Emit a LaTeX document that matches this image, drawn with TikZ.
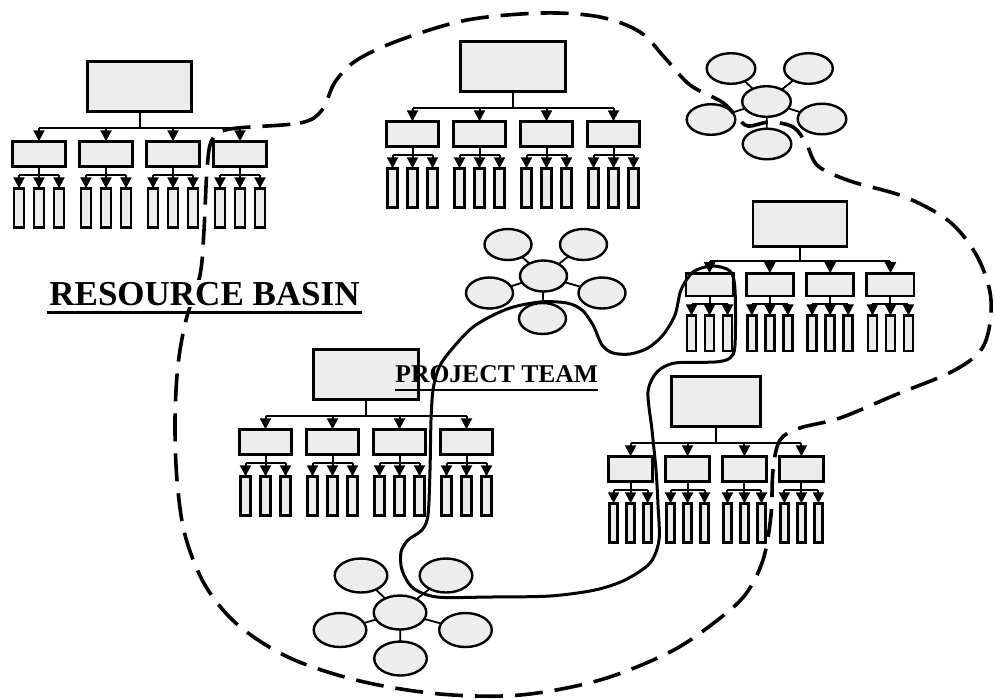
\documentclass[tikz,border=0pt]{standalone}
\usepackage{fontspec}
\setmainfont{Liberation Serif}
\usetikzlibrary{arrows.meta,shapes.geometric}
\tikzset{
  box/.style={draw, line width=1.4pt, fill=black!7, inner sep=0pt, outer sep=0pt},
  topbox/.style={box, minimum width=52.2pt, minimum height=25.2pt},
  childbox/.style={box, minimum width=26.2pt, minimum height=12.7pt},
  leafbox/.style={box, minimum width=5pt, minimum height=19.7pt},
  conn/.style={line width=1pt},
  arr/.style={line width=1pt, -{Triangle[length=5.5pt,width=5.5pt]}},
  bubble/.style={draw, ellipse, line width=1.2pt, fill=black!7, inner sep=0pt, outer sep=0pt},
  bubA/.style={bubble, minimum width=24.3pt, minimum height=15.3pt},
  bubB/.style={bubble, minimum width=23.5pt, minimum height=15.5pt},
  bubC/.style={bubble, minimum width=26.3pt, minimum height=17pt},
  spoke/.style={line width=0.9pt},
  basin/.style={line width=1.8pt, dash pattern=on 14pt off 6pt},
  team/.style={line width=1.5pt},
}
\newcommand{\orgchart}[5]{%
\begin{scope}[shift={(#2,#3)},xscale=#4,yscale=#5,transform shape]
\node[topbox] (#1) at (0,26.5) {};
\coordinate (#1bar) at (0,68);
\draw[conn] (#1.south) -- (#1bar);
\foreach \i/\dx in {a/-100.5,b/-33.5,c/33.5,d/100.5}{%
  \node[childbox] (#1\i) at (\dx,94) {};
  \coordinate (#1\i s) at (\dx,115);
  \draw[conn] (#1\i.south) -- (#1\i s);
  \foreach \j/\ex in {1/-20,2/0,3/20}{%
    \node[leafbox] (#1\i\j) at ({\dx+\ex},148) {};
    \draw[arr] (#1\i\j |- #1\i s) -- (#1\i\j.north);
  }
  \draw[conn] (#1\i1 |- #1\i s) -- (#1\i3 |- #1\i s);
  \draw[arr] (#1\i |- #1bar) -- (#1\i.north);
}
\draw[conn] (#1a |- #1bar) -- (#1d |- #1bar);
\end{scope}}
\begin{document}
\begin{tikzpicture}[x=0.5pt,y=-0.5pt]
\useasboundingbox (0,0) rectangle (995,698);

% organisation charts
\orgchart{oA}{139.5}{60}{1}{1}
\orgchart{oB}{513}{40}{1}{1}
\orgchart{oC}{800}{200}{0.9}{0.9}
\orgchart{oD}{366}{348}{1}{1}
\orgchart{oE}{716}{375}{0.85}{1}

% bubble cluster A (top right)
\node[bubA] (aC) at (766.5,101.5) {};
\node[bubA] (aTL) at (731,68.5) {};
\node[bubA] (aTR) at (808.5,68.5) {};
\node[bubA] (aL) at (711,119.5) {};
\node[bubA] (aR) at (822,119) {};
\node[bubA] (aB) at (767,144) {};
\foreach \n in {aTL,aTR,aL,aR,aB} \draw[spoke] (aC) -- (\n);

% bubble cluster B (middle)
\node[bubB] (bC) at (543.5,276) {};
\node[bubB] (bTL) at (508,244.5) {};
\node[bubB] (bTR) at (583.5,244.5) {};
\node[bubB] (bL) at (489.5,293) {};
\node[bubB] (bR) at (602,293) {};
\node[bubB] (bB) at (542.5,318.5) {};
\foreach \n in {bTL,bTR,bL,bR,bB} \draw[spoke] (bC) -- (\n);

% bubble cluster C (bottom)
\node[bubC] (cC) at (400,612.5) {};
\node[bubC] (cTL) at (361,575.5) {};
\node[bubC] (cTR) at (446,575.5) {};
\node[bubC] (cL) at (340,630) {};
\node[bubC] (cR) at (465.5,630) {};
\node[bubC] (cB) at (400.5,658.5) {};
\foreach \n in {cTL,cTR,cL,cR,cB} \draw[spoke] (cC) -- (\n);

% project team label
\node[font=\fontsize{12.8}{15}\selectfont\bfseries, anchor=base west, inner sep=0pt] (pt) at (395,382) {PROJECT TEAM};
\draw[line width=1pt] ([yshift=-4pt]pt.base west) -- ([yshift=-4pt]pt.base east);

% resource basin boundary (dashed)
\draw[basin] plot[smooth cycle, tension=0.55] coordinates {
(230,129) (300,123) (322,110) (335,82) (357,60) (400,40) (467,20) (543,13)
(600,17) (640,32) (665,58) (690,85) (722,102) (737,117) (748,126) (770,122)
(793,127) (806,143) (818,166) (850,181) (905,197) (950,222) (978,258) (991,300)
(984,345) (955,370) (895,395) (840,418) (800,428) (780,440) (773,470) (771,515)
(763,560) (745,595) (715,622) (670,652) (600,680) (520,695) (440,694) (360,681)
(290,658) (238,625) (205,585) (185,535) (177,480) (175,420) (178,365) (186,320)
(200,275) (204,230) (207,170) (212,140)};

% project team boundary (solid)
\draw[team] plot[smooth cycle, tension=0.5] coordinates {
(431,420) (433,390) (438,370) (447,355) (473,327) (507,309) (540,302) (567,303)
(582,310) (593,325) (602,345) (613,353) (630,354) (648,348) (663,335) (675,315)
(681,290) (693,272) (712,266) (730,271) (735,290) (735,345) (730,358) (715,362)
(675,363) (657,372) (648,392) (652,430) (656,470) (658,505) (659,540) (650,563)
(625,580) (595,590) (550,596) (490,597) (437,597) (413,588) (402,570) (401,552)
(408,540) (422,530) (428,515) (430,470)};

% resource basin label
\node[font=\fontsize{17.5}{20}\selectfont\bfseries, anchor=base east, fill=white, inner sep=1pt] (rb) at (362,305) {RESOURCE BASIN};
\draw[line width=1.5pt] ([yshift=-3.5pt]rb.base west) -- ([yshift=-3.5pt]rb.base east);
\end{tikzpicture}
\end{document}
